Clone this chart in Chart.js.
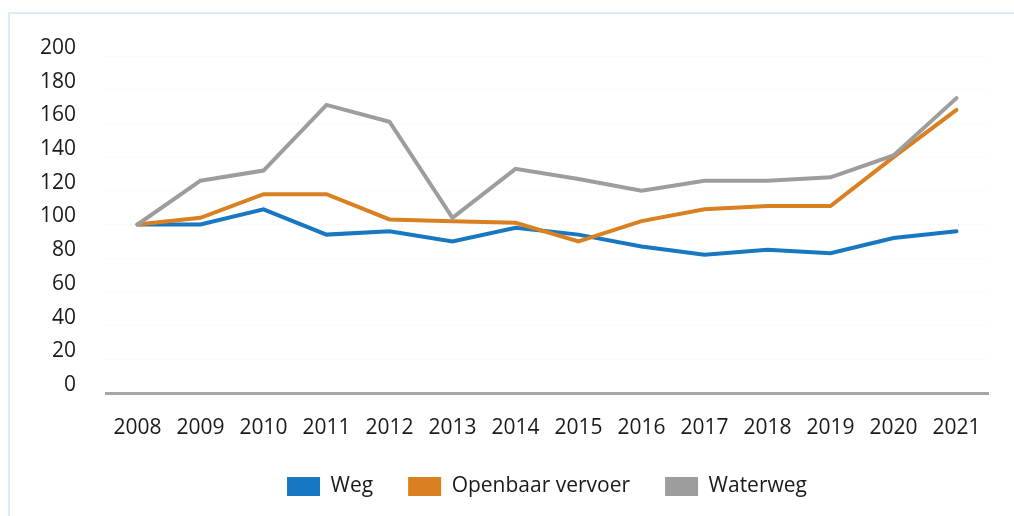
<!DOCTYPE html>
<html>
<head>
<meta charset="utf-8">
<script src="https://cdn.jsdelivr.net/npm/chart.js@4/dist/chart.umd.min.js"></script>
<style>
  html, body { margin: 0; padding: 0; background: #fff; overflow: hidden; }
  #frame { position: absolute; left: 8px; top: 12px; width: 1200px; height: 700px;
           border-top: 2px solid #dcedf8; border-left: 2px solid #dcedf8; }
  #wrap { position: absolute; left: 0; top: 0; width: 1014px; height: 516px; }
</style>
</head>
<body>
<div id="frame"></div>
<div id="wrap"><canvas id="lineChart"></canvas></div>
<script>
const years = ['2008', '2009', '2010', '2011', '2012', '2013', '2014', '2015', '2016', '2017', '2018', '2019', '2020', '2021']
const weg = [100, 100, 109, 94, 96, 90, 98, 94, 87, 82, 85, 83, 92, 96]
const openbaarVervoer = [100, 104, 118, 118, 103, 102, 101, 90, 102, 109, 111, 111, 140, 168]
const waterweg = [100, 126, 132, 171, 161, 104, 133, 127, 120, 126, 126, 128, 141, 175]
const yTicks = [0, 20, 40, 60, 80, 100, 120, 140, 160, 180, 200]

const textColor = '#1a1a1a'
const fontFamily = '"Open Sans", "Noto Sans", sans-serif'

function lineSet(label, data, color, order) {
    return {
        label: label,
        data: data,
        borderColor: color,
        backgroundColor: color,
        borderWidth: 4,
        borderCapStyle: 'round',
        pointRadius: 0,
        pointHoverRadius: 0,
        tension: 0,
        order: order
    }
}

const ctx = document.getElementById('lineChart').getContext('2d')
const lineChart = new Chart(ctx, {
    type: 'line',
    data: {
        labels: years,
        datasets: [
            lineSet('Weg', weg, '#1777c1', 3),
            lineSet('Openbaar vervoer', openbaarVervoer, '#d98021', 2),
            lineSet('Waterweg', waterweg, '#9d9d9d', 1)
        ]
    },
    options: {
        responsive: true,
        maintainAspectRatio: false,
        animation: false,
        layout: {
            padding: { top: 56, right: 26, bottom: 9, left: 0 }
        },
        plugins: {
            tooltip: { enabled: false },
            legend: {
                position: 'bottom',
                fullSize: false,
                labels: {
                    boxWidth: 33,
                    boxHeight: 19,
                    padding: 35,
                    color: textColor,
                    font: { family: fontFamily, size: 21 },
                    sort: (a, b) => a.datasetIndex - b.datasetIndex,
                    // plain filled boxes, no outline
                    generateLabels: (chart) => {
                        const items = Chart.defaults.plugins.legend.labels.generateLabels(chart)
                        items.forEach(item => {
                            item.lineWidth = 0
                            item.fillStyle = item.strokeStyle
                        })
                        return items
                    }
                }
            }
        },
        scales: {
            x: {
                offset: true,
                grid: { display: false, drawTicks: false },
                border: { display: true, color: '#a6a6a6', width: 3 },
                ticks: {
                    color: textColor,
                    padding: 22,
                    maxRotation: 0,
                    autoSkip: false,
                    font: { family: fontFamily, size: 21 }
                },
                afterFit: (scale) => { scale.height = 48 }
            },
            y: {
                min: 0,
                max: 200,
                afterBuildTicks: (scale) => {
                    scale.ticks = yTicks.map(v => ({ value: v }))
                },
                grid: { color: '#ebebeb', lineWidth: 1, drawTicks: false },
                border: { display: false, dash: [1, 3] },
                ticks: {
                    color: textColor,
                    padding: 30,
                    labelOffset: -8,
                    font: { family: fontFamily, size: 21 }
                },
                afterFit: (scale) => { scale.width = 106 }
            }
        }
    }
})
</script>
</body>
</html>
